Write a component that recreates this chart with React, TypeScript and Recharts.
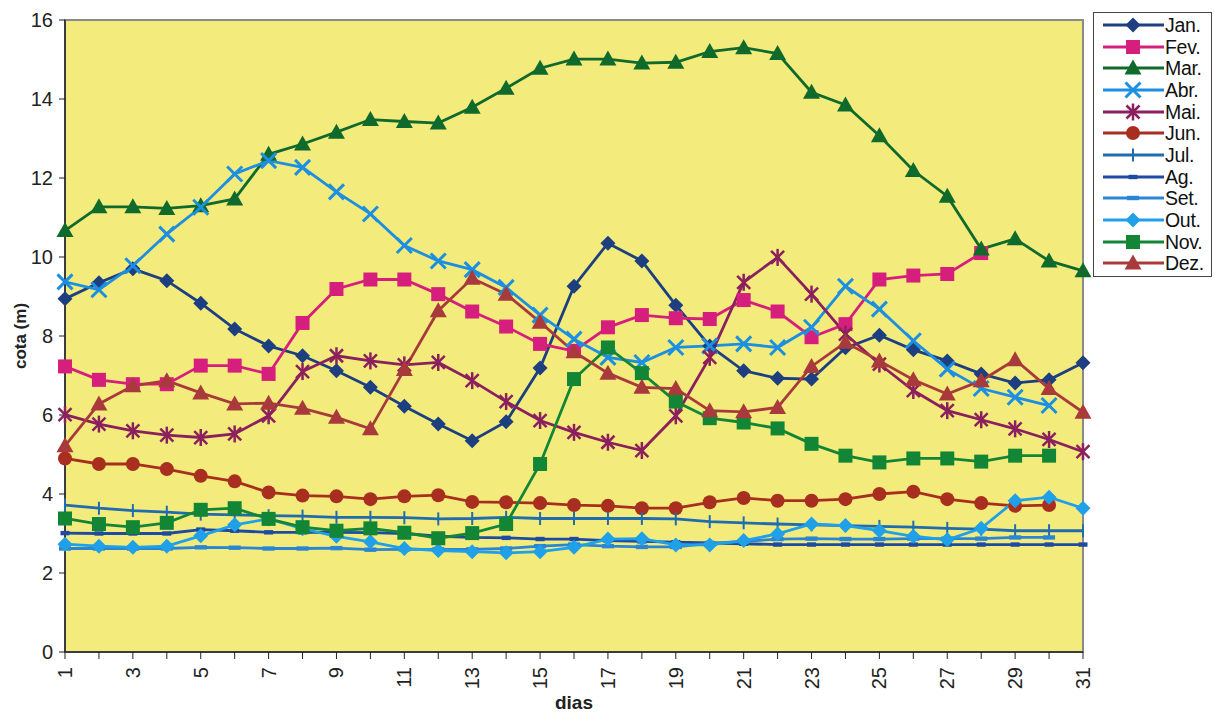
import React from 'react';
import { LineChart, Line, XAxis, YAxis, CartesianGrid, ReferenceArea, Label } from 'recharts';

const days = [1, 2, 3, 4, 5, 6, 7, 8, 9, 10, 11, 12, 13, 14, 15, 16, 17, 18, 19, 20, 21, 22, 23, 24, 25, 26, 27, 28, 29, 30, 31];
const yTicks = [0, 2, 4, 6, 8, 10, 12, 14, 16];

const jan = [8.94, 9.35, 9.7, 9.4, 8.83, 8.18, 7.75, 7.5, 7.12, 6.7, 6.22, 5.77, 5.35, 5.83, 7.19, 9.26, 10.35, 9.9, 8.78, 7.75, 7.12, 6.93, 6.91, 7.7, 8.02, 7.65, 7.37, 7.04, 6.81, 6.89, 7.32];
const fev = [7.23, 6.89, 6.78, 6.78, 7.25, 7.25, 7.04, 8.33, 9.19, 9.43, 9.43, 9.06, 8.62, 8.24, 7.8, 7.62, 8.22, 8.53, 8.45, 8.43, 8.91, 8.62, 7.97, 8.3, 9.43, 9.53, 9.57, 10.1, null, null, null];
const mar = [10.67, 11.27, 11.27, 11.23, 11.3, 11.47, 12.6, 12.86, 13.16, 13.48, 13.43, 13.39, 13.79, 14.27, 14.78, 15.01, 15.01, 14.91, 14.93, 15.2, 15.3, 15.15, 14.17, 13.85, 13.07, 12.19, 11.54, 10.2, 10.46, 9.9, 9.65];
const abr = [9.37, 9.17, 9.78, 10.58, 11.26, 12.1, 12.44, 12.27, 11.65, 11.09, 10.29, 9.9, 9.68, 9.23, 8.53, 7.92, 7.46, 7.33, 7.71, 7.75, 7.8, 7.71, 8.22, 9.26, 8.68, 7.88, 7.16, 6.67, 6.45, 6.24, null];
const mai = [6.01, 5.77, 5.6, 5.49, 5.43, 5.52, 5.98, 7.1, 7.5, 7.37, 7.27, 7.33, 6.87, 6.34, 5.86, 5.56, 5.31, 5.1, 5.98, 7.46, 9.36, 9.99, 9.06, 8.05, 7.29, 6.62, 6.11, 5.88, 5.65, 5.38, 5.07];
const jun = [4.9, 4.76, 4.76, 4.63, 4.46, 4.32, 4.04, 3.96, 3.94, 3.87, 3.94, 3.97, 3.8, 3.79, 3.77, 3.72, 3.7, 3.64, 3.64, 3.79, 3.9, 3.83, 3.83, 3.87, 4.0, 4.06, 3.87, 3.77, 3.7, 3.72, null];
const jul = [3.72, 3.64, 3.58, 3.54, 3.49, 3.47, 3.45, 3.44, 3.41, 3.41, 3.4, 3.37, 3.38, 3.41, 3.38, 3.38, 3.38, 3.38, 3.37, 3.3, 3.27, 3.24, 3.22, 3.2, 3.18, 3.16, 3.13, 3.11, 3.07, 3.07, 3.07];
const ag = [3.01, 3.0, 3.0, 3.0, 3.1, 3.07, 3.03, 3.03, 3.03, 3.02, 3.0, 2.93, 2.9, 2.89, 2.86, 2.86, 2.82, 2.8, 2.78, 2.76, 2.74, 2.72, 2.72, 2.72, 2.72, 2.72, 2.72, 2.72, 2.72, 2.72, 2.72];
const set = [2.62, 2.62, 2.62, 2.62, 2.65, 2.64, 2.62, 2.62, 2.63, 2.59, 2.6, 2.6, 2.6, 2.62, 2.68, 2.72, 2.68, 2.66, 2.66, 2.75, 2.8, 2.86, 2.87, 2.86, 2.86, 2.87, 2.87, 2.87, 2.9, 2.9, null];
const out = [2.73, 2.68, 2.65, 2.68, 2.94, 3.22, 3.37, 3.12, 2.93, 2.79, 2.62, 2.57, 2.54, 2.51, 2.54, 2.65, 2.86, 2.87, 2.71, 2.71, 2.82, 2.99, 3.24, 3.2, 3.07, 2.93, 2.84, 3.13, 3.83, 3.92, 3.64];
const nov = [3.38, 3.24, 3.16, 3.27, 3.6, 3.64, 3.37, 3.16, 3.07, 3.13, 3.02, 2.88, 3.01, 3.24, 4.76, 6.91, 7.71, 7.06, 6.34, 5.92, 5.81, 5.66, 5.27, 4.97, 4.8, 4.9, 4.9, 4.82, 4.97, 4.97, null];
const dez = [5.22, 6.28, 6.74, 6.87, 6.56, 6.28, 6.3, 6.17, 5.94, 5.65, 7.15, 8.64, 9.46, 9.06, 8.35, 7.6, 7.06, 6.7, 6.67, 6.11, 6.08, 6.19, 7.23, 7.84, 7.37, 6.89, 6.53, 6.87, 7.4, 6.67, 6.07];

const series = [
  { key: 'Jan.', values: jan, color: '#1d3f80', marker: 'diamond' },
  { key: 'Fev.', values: fev, color: '#d61f7c', marker: 'square' },
  { key: 'Mar.', values: mar, color: '#0f6a2c', marker: 'triangle' },
  { key: 'Abr.', values: abr, color: '#1c8fe0', marker: 'x' },
  { key: 'Mai.', values: mai, color: '#8c1f5e', marker: 'star' },
  { key: 'Jun.', values: jun, color: '#a82f1f', marker: 'circle' },
  { key: 'Jul.', values: jul, color: '#1f6cae', marker: 'plus' },
  { key: 'Ag.', values: ag, color: '#1d4aa2', marker: 'dash' },
  { key: 'Set.', values: set, color: '#2a86d4', marker: 'wide' },
  { key: 'Out.', values: out, color: '#20a0e8', marker: 'diamond' },
  { key: 'Nov.', values: nov, color: '#138636', marker: 'square' },
  { key: 'Dez.', values: dez, color: '#a93a3c', marker: 'triangle' },
];

const data = days.map((d, i) => {
  const row: any = { day: d };
  series.forEach(s => { row[s.key] = s.values[i]; });
  return row;
});

const FONT = '"Liberation Sans", Arial, sans-serif';

function drawMarker(type: string, color: string, cx: number, cy: number, key?: any) {
  switch (type) {
    case 'diamond':
      return <polygon key={key} points={`${cx},${cy - 7.5} ${cx + 7.5},${cy} ${cx},${cy + 7.5} ${cx - 7.5},${cy}`} fill={color} />;
    case 'square':
      return <rect key={key} x={cx - 7} y={cy - 7} width={14} height={14} fill={color} />;
    case 'triangle':
      return <polygon key={key} points={`${cx},${cy - 8.5} ${cx + 8.5},${cy + 6.5} ${cx - 8.5},${cy + 6.5}`} fill={color} />;
    case 'circle':
      return <circle key={key} cx={cx} cy={cy} r={7} fill={color} />;
    case 'x':
      return (
        <g key={key} stroke={color} strokeWidth={3}>
          <line x1={cx - 7.5} y1={cy - 7.5} x2={cx + 7.5} y2={cy + 7.5} />
          <line x1={cx - 7.5} y1={cy + 7.5} x2={cx + 7.5} y2={cy - 7.5} />
        </g>
      );
    case 'star':
      return (
        <g key={key} stroke={color} strokeWidth={2.5}>
          <line x1={cx - 6.5} y1={cy - 6.5} x2={cx + 6.5} y2={cy + 6.5} />
          <line x1={cx - 6.5} y1={cy + 6.5} x2={cx + 6.5} y2={cy - 6.5} />
          <line x1={cx} y1={cy - 8.5} x2={cx} y2={cy + 8.5} />
        </g>
      );
    case 'plus':
      return <line key={key} x1={cx} y1={cy - 6.5} x2={cx} y2={cy + 6.5} stroke={color} strokeWidth={2} />;
    case 'dash':
      return <rect key={key} x={cx - 4.5} y={cy - 2.2} width={9} height={4.4} fill={color} />;
    case 'wide':
      return <rect key={key} x={cx - 6} y={cy - 2.2} width={12} height={4.4} fill={color} />;
    default:
      return <g key={key} />;
  }
}

const XTick = (props: any) => {
  const { x, y, payload } = props;
  if (payload.value % 2 === 0) return <g />;
  return (
    <text x={x} y={y + 6} transform={`rotate(-90, ${x}, ${y + 6})`} textAnchor="end" dominantBaseline="central" fontSize={20} fontFamily={FONT} fill="#222">
      {payload.value}
    </text>
  );
};

const Legend = () => (
  <div style={{ position: 'absolute', left: 1093, top: 12, width: 119, height: 265, border: '1px solid #444', background: '#fff', boxSizing: 'border-box', paddingTop: 1 }}>
    {series.map(s => (
      <div key={s.key} style={{ display: 'flex', alignItems: 'center', height: 21.7 }}>
        <svg width={71} height={20} style={{ display: 'block', flex: 'none' }}>
          <line x1={9} y1={10} x2={70} y2={10} stroke={s.color} strokeWidth={2.8} />
          {drawMarker(s.marker, s.color, 39, 10)}
        </svg>
        <span style={{ fontFamily: FONT, fontSize: 19.5, color: '#111', lineHeight: '20px', letterSpacing: -0.3 }}>{s.key}</span>
      </div>
    ))}
  </div>
);

export default function App() {
  return (
    <div style={{ position: 'absolute', left: 0, top: 0, width: 1214, height: 713, background: '#fff' }}>
      <LineChart width={1214} height={713} data={data} margin={{ top: 20, right: 131, left: 1, bottom: 0 }}>
        <CartesianGrid fill="#f3ec7c" horizontal={false} vertical={false} />
        <ReferenceArea x1={1} x2={31} y1={0} y2={16} fill="#f3ec7c" fillOpacity={1} stroke="#8a8a8a" strokeWidth={2} />
        <XAxis
          dataKey="day"
          type="number"
          domain={[1, 31]}
          ticks={days}
          interval={0}
          tick={<XTick />}
          tickSize={7}
          height={61}
          axisLine={{ stroke: '#222', strokeWidth: 1.5 }}
          tickLine={{ stroke: '#222' }}
        >
          <Label value="dias" position="insideBottom" offset={4} style={{ fontFamily: FONT, fontSize: 19, fontWeight: 'bold', fill: '#222' }} />
        </XAxis>
        <YAxis
          type="number"
          domain={[0, 16]}
          ticks={yTicks}
          width={64}
          tickSize={6}
          tickMargin={6}
          axisLine={{ stroke: '#222', strokeWidth: 1.5 }}
          tickLine={{ stroke: '#222' }}
          tick={{ fontFamily: FONT, fontSize: 20, fill: '#222' }}
        >
          <Label
            content={(p: any) => {
              const vb = p.viewBox || { x: 0, y: 20, height: 632 };
              const cx = 20;
              const cy = vb.y + vb.height / 2;
              return (
                <text x={cx} y={cy} transform={`rotate(-90, ${cx}, ${cy})`} textAnchor="middle" dominantBaseline="central" fontFamily={FONT} fontSize={17} fontWeight="bold" fill="#222">
                  cota (m)
                </text>
              );
            }}
          />
        </YAxis>
        {series.map(s => (
          <Line
            key={s.key}
            type="linear"
            dataKey={s.key}
            stroke={s.color}
            strokeWidth={2.8}
            isAnimationActive={false}
            connectNulls={false}
            activeDot={false}
            dot={(p: any) => (p.value == null || p.cx == null ? <g key={p.index} /> : drawMarker(s.marker, s.color, p.cx, p.cy, p.index))}
          />
        ))}
      </LineChart>
      <Legend />
    </div>
  );
}
